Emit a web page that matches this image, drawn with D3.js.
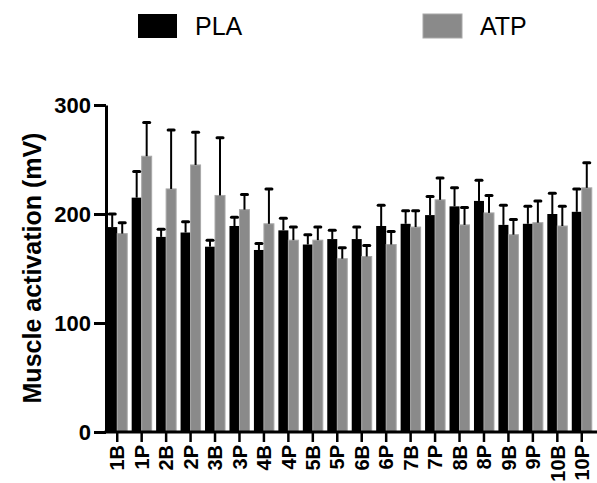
<!DOCTYPE html>
<html>
<head>
<meta charset="utf-8">
<script src="https://cdn.jsdelivr.net/npm/d3@7"></script>
<style>
  body { margin: 0; background: #fff; }
  svg { display: block; font-family: "Liberation Sans", Arial, sans-serif; }
</style>
</head>
<body>
<svg id="chart"></svg>
<script>
"use strict";

let width = 597;
let height = 483;

// data
const categories = ["1B","1P","2B","2P","3B","3P","4B","4P","5B","5P",
                    "6B","6P","7B","7P","8B","8P","9B","9P","10B","10P"];
const plaMean = [188,215,179,183,170,189,167,185,172,177,177,189,191,199,207,212,190,191,200,202];
const plaErr  = [12,24,7,10,6,8,6,11,9,8,11,19,12,17,17,19,18,16,19,21];
const atpMean = [182,253,223,245,217,204,191,176,176,159,161,172,188,213,190,201,181,192,189,224];
const atpErr  = [10,31,54,30,53,14,32,12,12,10,10,12,15,20,16,16,14,20,18,23];
const yTicks  = [0,100,200,300];
const seriesNames = ["PLA","ATP"];
const seriesColors = ["#000000","#8a8a8a"];

let svg = d3.select('#chart').attr('width', width).attr('height', height);

let x = d3.scaleBand()
  .domain(categories)
  .range([105, 594])
  .padding(0);

let step = x.step();
let xSeries = d3.scaleBand()
  .domain(seriesNames)
  .range([step/2 - 10, step/2 + 10]);

let y = d3.scaleLinear()
  .domain([0, 300])
  .range([432, 105]);

let rows = categories.map((c, i) => ({
  cat: c,
  vals: [
    {s: "PLA", v: plaMean[i], e: plaErr[i]},
    {s: "ATP", v: atpMean[i], e: atpErr[i]}
  ]
}));

// bars
let groups = svg.append("g").selectAll("g")
  .data(rows)
  .enter()
  .append("g")
  .attr("transform", d => `translate(${x(d.cat)},0)`);

groups.selectAll("rect")
  .data(d => d.vals)
  .enter()
  .append("rect")
    .attr("x", d => xSeries(d.s))
    .attr("y", d => y(d.v))
    .attr("width", xSeries.bandwidth())
    .attr("height", d => y(0) - y(d.v))
    .style("fill", (d, i) => seriesColors[i])
    .style("stroke", (d, i) => i === 0 ? "none" : "#a8a8a8")
    .style("stroke-width", 1);

// error bars (upper only)
let eb = groups.selectAll("g.err")
  .data(d => d.vals)
  .enter()
  .append("g")
  .attr("class", "err");

eb.append("line")
  .attr("x1", d => xSeries(d.s) + xSeries.bandwidth()/2)
  .attr("x2", d => xSeries(d.s) + xSeries.bandwidth()/2)
  .attr("y1", d => y(d.v))
  .attr("y2", d => y(d.v + d.e))
  .style("stroke", "#000")
  .style("stroke-width", 2);

eb.append("line")
  .attr("x1", d => xSeries(d.s) + xSeries.bandwidth()/2 - 3)
  .attr("x2", d => xSeries(d.s) + xSeries.bandwidth()/2 + 3)
  .attr("y1", d => y(d.v + d.e))
  .attr("y2", d => y(d.v + d.e))
  .style("stroke", "#000")
  .style("stroke-width", 3)
  .style("stroke-linecap", "round");

// y axis
let yAxis = svg.append("g")
  .attr("transform", "translate(106,0)")
  .call(d3.axisLeft(y).tickValues(yTicks).tickSize(12).tickSizeOuter(0).tickPadding(3));
yAxis.select(".domain").style("stroke", "#000").style("stroke-width", 3);
yAxis.selectAll(".tick line").style("stroke", "#000").style("stroke-width", 3);
yAxis.selectAll(".tick text")
  .style("font-size", "22px")
  .style("font-weight", "bold")
  .style("fill", "#000");

// x axis
let xAxis = svg.append("g")
  .attr("transform", "translate(0,432)")
  .call(d3.axisBottom(x).tickSize(10).tickSizeOuter(0).tickPadding(4));
xAxis.select(".domain").attr("d", "M104.5,0H597").style("stroke", "#000").style("stroke-width", 3);
xAxis.selectAll(".tick line").style("stroke", "#000").style("stroke-width", 2.5);
xAxis.selectAll(".tick text")
  .attr("transform", "rotate(-90)")
  .attr("x", -13)
  .attr("y", 0)
  .attr("dy", "0.36em")
  .attr("text-anchor", "end")
  .style("font-size", "20px")
  .style("font-weight", "bold")
  .style("fill", "#000");

// y label
svg.append("text")
  .attr("transform", "translate(41,268) rotate(-90)")
  .attr("text-anchor", "middle")
  .style("font-size", "25px")
  .style("font-weight", "bold")
  .text("Muscle activation (mV)");

// legend
const legendX = [138, 423];
let legend = svg.append("g").selectAll("g")
  .data(seriesNames)
  .enter()
  .append("g")
  .attr("transform", (d, i) => `translate(${legendX[i]},14)`);

legend.append("rect")
  .attr("width", 39)
  .attr("height", 24)
  .style("fill", (d, i) => seriesColors[i])
  .style("stroke", (d, i) => i === 0 ? "none" : "#a8a8a8");

legend.append("text")
  .attr("x", 57)
  .attr("y", 21)
  .style("font-size", "25px")
  .text(d => d);
</script>
</body>
</html>
